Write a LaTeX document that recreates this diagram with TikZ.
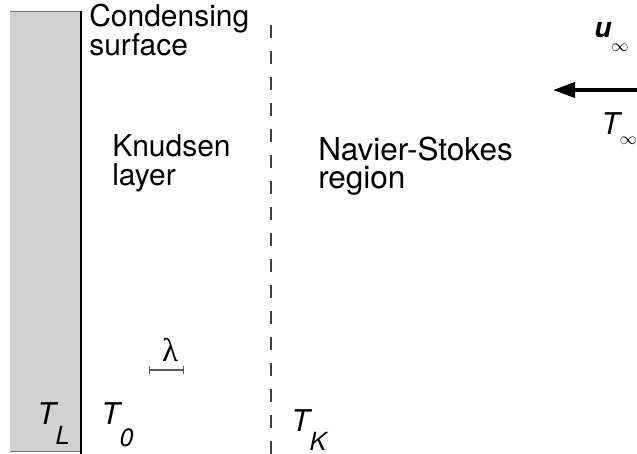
\documentclass[tikz,border=0pt]{standalone}
\usepackage{fontspec}
\setmainfont{TeX Gyre Heros}
\newfontfamily\greekfont{Liberation Serif}
\usetikzlibrary{arrows.meta}
\newcommand\sublbl[3]{#1\raisebox{-#3pt}{\fontsize{25}{25}\selectfont #2}}

\begin{document}
\begin{tikzpicture}[x=1pt,y=-1pt,line width=.5pt,
  lbl/.style={anchor=base west,inner sep=0pt,align=left,font=\fontsize{30}{28.5}\selectfont},
  sym/.style={anchor=base west,inner sep=0pt,font=\fontsize{30}{30}\selectfont\itshape}]
\path[use as bounding box] (0,0) rectangle (637,454);
% wall
\fill[black!18] (10,11) rectangle (80,451);
\draw[black!55] (10,11) -- (80,11);
\draw[black!55] (10,451) -- (80,451);
\draw[line width=2.8pt] (81,11) -- (81,454);
% edge of the Knudsen layer
\draw[black!75,line width=1.3pt,dash pattern=on 13pt off 13pt] (271,25) -- (271,454);
\node[lbl] (surf) at (89,55.5) {Condensing\\surface};
\node[lbl] (knud) at (112,185.5) {Knudsen\\layer};
\node[lbl,font=\fontsize{31.5}{28.5}\selectfont] (ns) at (318,189) {Navier-Stokes\\region};
\node[sym] (tl) at (37,424) {\sublbl{T}{L}{20}};
\node[sym] (t0) at (101,424) {\sublbl{T}{0}{22}};
\node[sym] (tk) at (291,431) {\sublbl{T}{K}{19}};
% free stream
\node[sym,font=\fontsize{28}{28}\selectfont\bfseries\itshape] (uinf) at (594,38) {u\raisebox{-14pt}{\fontsize{17}{17}\selectfont$\infty$}};
\node[sym] (tinf) at (601,135) {T\raisebox{-10pt}{\fontsize{17}{17}\selectfont$\infty$}};
\coordinate (ustart) at (637,90);
\coordinate (uend) at (553,90);
\draw[line width=4pt,-{Triangle[length=22pt,width=15pt]}] (ustart) -- (uend);
% mean free path
\coordinate (lama) at (149,370);
\coordinate (lamb) at (184,370);
\draw[black!65,line width=1.2pt,{Bar[width=8pt]}-{Bar[width=8pt]}] (lama) -- (lamb);
\node[anchor=base,inner sep=0pt,font=\fontsize{33}{33}\selectfont\greekfont] (lam) at (170,361) {λ};
\end{tikzpicture}
\end{document}
